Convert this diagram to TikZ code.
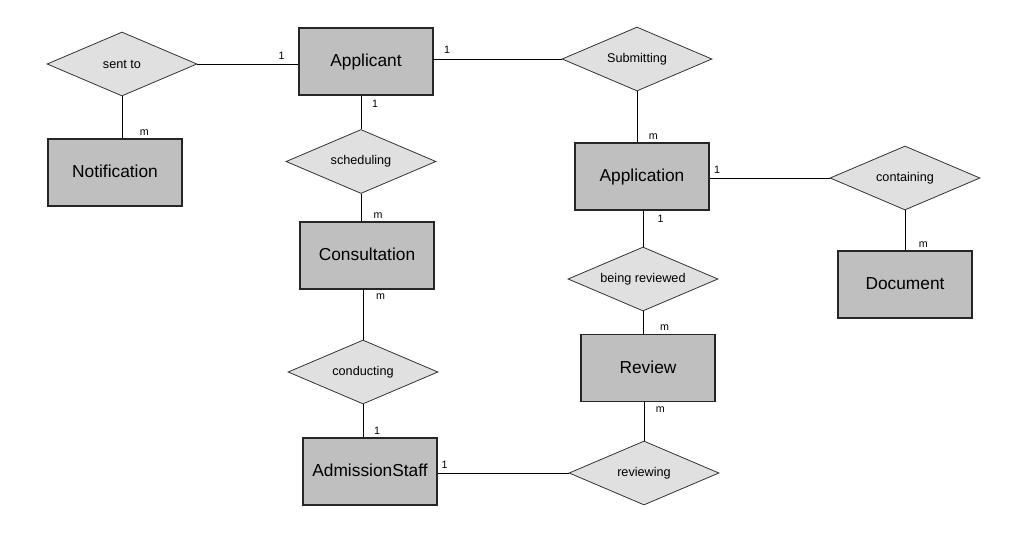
\documentclass[tikz,border=0pt]{standalone}
\usepackage{fontspec}
\setmainfont{Liberation Sans}
\usetikzlibrary{shapes.geometric}
\usetikzlibrary{positioning}

\begin{document}
\begin{tikzpicture}[x=0.75pt, y=-0.75pt,
    entity/.style={draw=black!85, line width=1.1pt, fill=black!25,
      minimum width=100.5pt, minimum height=50pt, text height=1.8ex, text depth=0.25ex,
      font=\fontsize{13}{15}\selectfont},
    relation/.style={diamond, aspect=2.34, draw=black!80, line width=0.6pt, fill=black!12,
      inner sep=0pt, minimum width=112.5pt, minimum height=48pt, font=\fontsize{9.5}{11}\selectfont},
    card/.style={font=\fontsize{8}{9}\selectfont, inner sep=1pt},
    link/.style={line width=0.75pt}]
  \useasboundingbox (0,0) rectangle (1032,558);

  \node[entity] (applicant) at (366,61.5) {Applicant};
  \node[entity] (notification) at (115,172.5) {Notification};
  \node[entity] (application) at (642,176.5) {Application};
  \node[entity] (consultation) at (367,255.5) {Consultation};
  \node[entity] (document) at (905,284.5) {Document};
  \node[entity] (review) at (648,368) {Review};
  \node[entity] (admissionstaff) at (370,471.5) {AdmissionStaff};

  \node[relation] (sentto) at (122,64) {sent to};
  \node[relation] (submitting) at (637,59) {Submitting};
  \node[relation] (scheduling) at (361,161.5) {scheduling};
  \node[relation] (containing) at (905,178) {containing};
  \node[relation] (beingreviewed) at (643,279) {being reviewed};
  \node[relation] (conducting) at (363,372) {conducting};
  \node[relation] (reviewing) at (644,473) {reviewing};

  \draw[link] (applicant.west |- sentto.east) node[card, above left=2pt and 9pt] {1} -- (sentto.east);
  \draw[link] (notification.north -| sentto.south) node[card, above right=1pt and 12pt] {m} -- (sentto.south);
  \draw[link] (applicant.east |- submitting.west) node[card, above right=3pt and 6.5pt] {1} -- (submitting.west);
  \draw[link] (application.north -| submitting.south) node[card, above right=1pt and 7.5pt] {m} -- (submitting.south);
  \draw[link] (applicant.south -| scheduling.north) node[card, below right=2pt and 7pt] {1} -- (scheduling.north);
  \draw[link] (consultation.north -| scheduling.south) node[card, above right=1pt and 8pt] {m} -- (scheduling.south);
  \draw[link] (application.east |- containing.west) node[card, above right=2pt and 2pt] {1} -- (containing.west);
  \draw[link] (document.north -| containing.south) node[card, above right=1pt and 9pt] {m} -- (containing.south);
  \draw[link] (application.south -| beingreviewed.north) node[card, below right=2pt and 9.5pt] {1} -- (beingreviewed.north);
  \draw[link] (review.north -| beingreviewed.south) node[card, above right=1pt and 11.5pt] {m} -- (beingreviewed.south);
  \draw[link] (consultation.south -| conducting.north) node[card, below right=2pt and 8.5pt] {m} -- (conducting.north);
  \draw[link] (admissionstaff.north -| conducting.south) node[card, above right=1pt and 7pt] {1} -- (conducting.south);
  \draw[link] (review.south -| reviewing.north) node[card, below right=2pt and 7.5pt] {m} -- (reviewing.north);
  \draw[link] (admissionstaff.east |- reviewing.west) node[card, above right=2pt and 1.5pt] {1} -- (reviewing.west);
\end{tikzpicture}
\end{document}
